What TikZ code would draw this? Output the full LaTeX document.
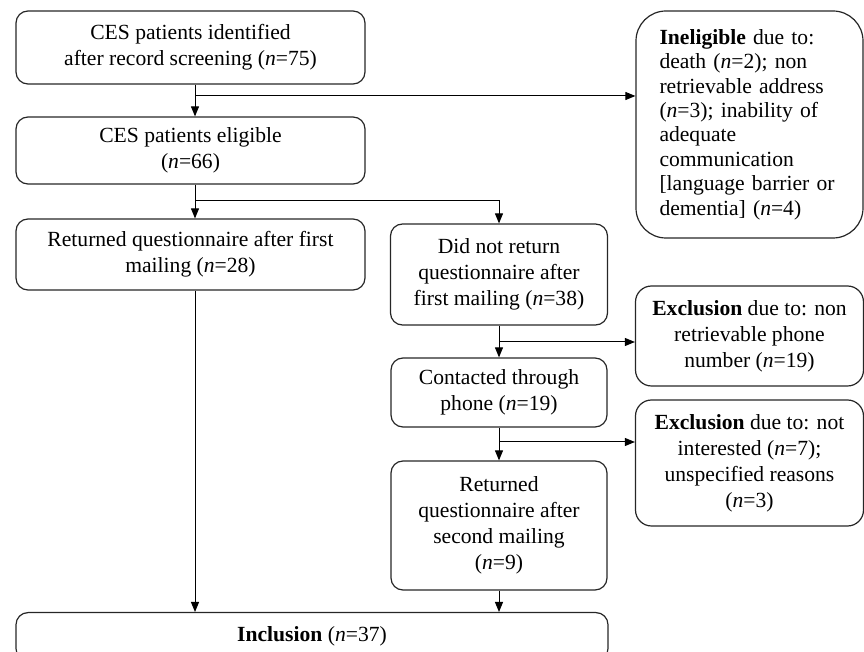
\documentclass[tikz,border=0pt]{standalone}
\usepackage{fontspec}
\setmainfont{Liberation Serif}
\usetikzlibrary{arrows.meta, positioning}

\begin{document}
\begin{tikzpicture}[x = 0.5pt, y = -0.5pt,
    every node/.style = {font = \fontsize{10.8}{13}\selectfont},
    box/.style    = {draw = black!85, line width = 0.6pt, rounded corners = 6pt,
                     align = center, inner sep = 3pt},
    sidebox/.style = {box, rounded corners = 8pt},
    arr/.style    = {draw = black, line width = 0.5pt,
                     -{Triangle[length = 5pt, width = 4pt]}}
  ]
  \clip (0,0) rectangle (864,652);

  % main column
  \node[box, minimum width = 174.5pt, minimum height = 36.5pt] (identified)
    at (190.5,47.5) {CES patients identified\\after record screening (\textit{n}=75)};
  \node[box, minimum width = 174.5pt, minimum height = 33.5pt] (eligible)
    at (190.5,150.5) {CES patients eligible\\(\textit{n}=66)};
  \node[box, minimum width = 174.5pt, minimum height = 35.5pt] (returnedfirst)
    at (190.5,254.5) {Returned questionnaire after first\\mailing (\textit{n}=28)};

  % second column
  \node[box, minimum width = 108.5pt, minimum height = 50.5pt] (notreturned)
    at (499,274.5) {Did not return\\questionnaire after\\first mailing (\textit{n}=38)};
  \node[box, minimum width = 108pt, minimum height = 34.5pt] (contacted)
    at (499,392.5) {Contacted through\\phone (\textit{n}=19)};
  \node[box, minimum width = 108pt, minimum height = 64.5pt] (returnedsecond)
    at (499,525.5) {Returned\\questionnaire after\\second mailing\\(\textit{n}=9)};

  % exclusions
  \node[sidebox, rounded corners = 15pt, align = left, text width = 90pt,
        font = \fontsize{10.8}{12.2}\selectfont,
        inner xsep = 11pt, minimum width = 113.5pt, minimum height = 113.5pt] (ineligible)
    at (749.5,124.5) {\textbf{Ineligible} due to:\\death (\textit{n}=2); non\\retrievable address\\(\textit{n}=3); inability of\\adequate\\communication\\{[}language barrier or\\dementia] (\textit{n}=4)};
  \node[sidebox, minimum width = 114pt, minimum height = 50pt] (exclphone)
    at (749.5,336) {\textbf{Exclusion} due to: non\\retrievable phone\\number (\textit{n}=19)};
  \node[sidebox, minimum width = 114pt, minimum height = 63pt] (exclinterest)
    at (749.5,463) {\textbf{Exclusion} due to: not\\interested (\textit{n}=7);\\unspecified reasons\\(\textit{n}=3)};

  \node[box, minimum width = 296pt, minimum height = 24pt, anchor = north] (inclusion)
    at (312,612) {\textbf{Inclusion} (\textit{n}=37)};

  % connectors
  \coordinate (split1) at (195,96);
  \coordinate (split2) at (195,201);
  \coordinate (split3) at (499,342);
  \coordinate (split4) at (499,442);

  \draw[arr] (split1 |- identified.south) -- (split1 |- eligible.north);
  \draw[arr] (split1) -- (split1 -| ineligible.west);
  \draw[arr] (split2 |- eligible.south) -- (split2 |- returnedfirst.north);
  \draw[arr] (split2) -| (notreturned.north);
  \draw[arr] (split2 |- returnedfirst.south) -- (split2 |- inclusion.north);
  \draw[arr] (notreturned) -- (contacted);
  \draw[arr] (split3) -- (split3 -| exclphone.west);
  \draw[arr] (contacted) -- (returnedsecond);
  \draw[arr] (split4) -- (split4 -| exclinterest.west);
  \draw[arr] (returnedsecond) -- (returnedsecond |- inclusion.north);
\end{tikzpicture}
\end{document}
